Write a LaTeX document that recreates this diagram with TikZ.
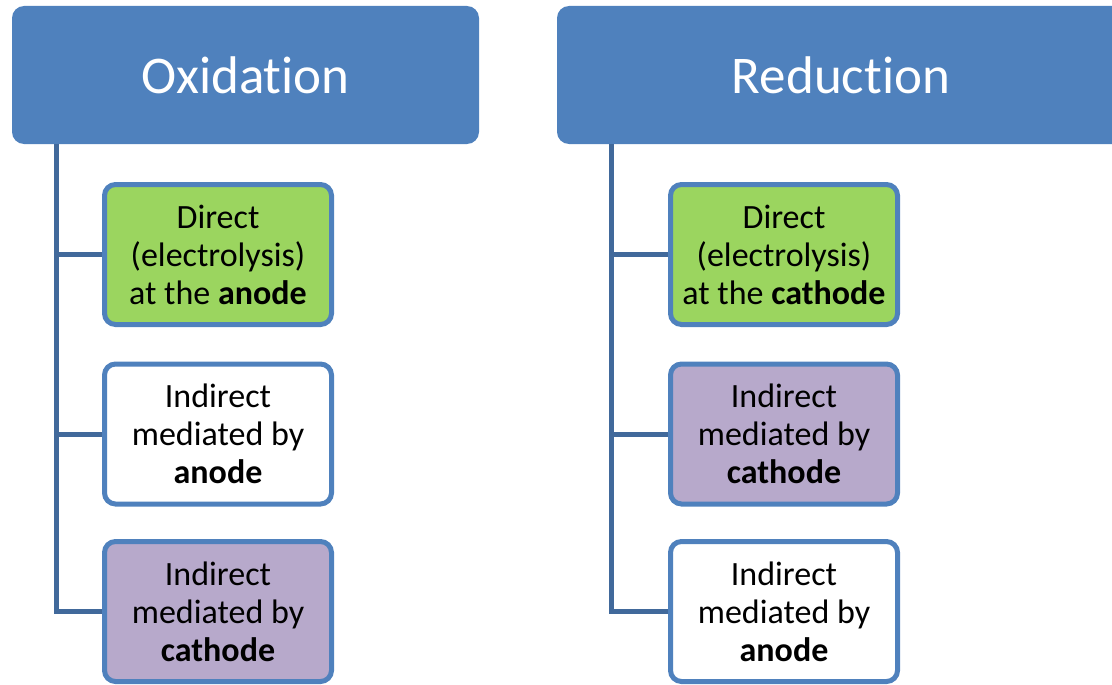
\documentclass[tikz,border=0pt]{standalone}
\usepackage{fontspec}
\setmainfont{Carlito}[Ligatures={NoCommon,NoDiscretionary}]
\usetikzlibrary{positioning}
\definecolor{headblue}{HTML}{4F81BD}
\definecolor{trunkblue}{HTML}{41699B}
\definecolor{directgreen}{HTML}{9BD55F}
\definecolor{mediatorpurple}{HTML}{B7A9CB}

\begin{document}
\begin{tikzpicture}[
x=1pt, y=-1pt,
head/.style={fill=headblue,
rounded corners=12pt,
text=white,
inner sep=0pt,
minimum height=138pt,
font=\fontsize{53}{60}\selectfont},
route/.style={draw=headblue,
line width=5pt,
rounded corners=11pt,
minimum width=227pt,
minimum height=140pt,
inner sep=0pt,
align=center,
font=\fontsize{34}{38}\selectfont},
trunk/.style={draw=trunkblue, line width=5pt}
]
\clip (0,0) rectangle (1112,685);

% left column
\node[head, minimum width=467pt] (ox) at (245.5,75) {Oxidation};
\node[route, fill=directgreen] (oxa) at (218,254.5) {Direct\\(electrolysis)\\at the \textbf{anode}};
\node[route, fill=white] (oxb) at (218,434) {Indirect\\mediated by\\\textbf{anode}};
\node[route, fill=mediatorpurple] (oxc) at (218,611.5) {Indirect\\mediated by\\\textbf{cathode}};
\coordinate (oxroot) at (56.5,144);

% right column
\node[head, minimum width=568pt] (red) at (841,75) {Reduction};
\node[route, fill=directgreen] (reda) at (784,254.5) {Direct\\(electrolysis)\\at the \textbf{cathode}};
\node[route, fill=mediatorpurple] (redb) at (784,434) {Indirect\\mediated by\\\textbf{cathode}};
\node[route, fill=white] (redc) at (784,611.5) {Indirect\\mediated by\\\textbf{anode}};
\coordinate (redroot) at (611,144);

\draw[trunk] (oxroot) |- (oxa.west);
\draw[trunk] (oxroot) |- (oxb.west);
\draw[trunk] (oxroot) |- (oxc.west);
\draw[trunk] (redroot) |- (reda.west);
\draw[trunk] (redroot) |- (redb.west);
\draw[trunk] (redroot) |- (redc.west);

\end{tikzpicture}
\end{document}
